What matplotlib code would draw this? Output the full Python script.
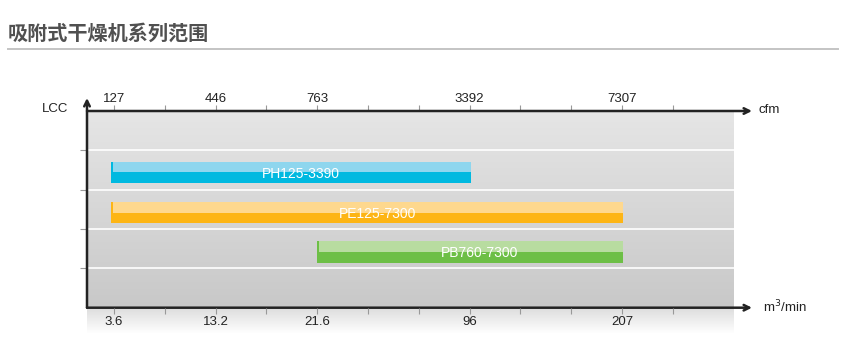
import numpy as np
import matplotlib.pyplot as plt

plt.rcParams['font.family'] = ['Liberation Sans', 'Noto Sans CJK SC', 'DejaVu Sans']

# 数据：刻度位置（等距索引）与标签
tick_pos = list(range(12))
cfm_labels = {0: '127', 2: '446', 4: '763', 7: '3392', 10: '7307'}
m3_labels = {0: '3.6', 2: '13.2', 4: '21.6', 7: '96', 10: '207'}

series = ['PH125-3390', 'PE125-7300', 'PB760-7300']
starts = [-0.06, -0.06, 3.99]
ends = [7.02, 10.02, 10.02]
rows = [1.56, 2.585, 3.59]
dark_colors = ['#00b9e0', '#fdb515', '#6dbf46']
light_colors = ['#8ed6ee', '#fed88e', '#b8dca0']

W, H = 855, 357
fig = plt.figure(figsize=(W / 100, H / 100), dpi=100)

def fr(x0, y0, x1, y1):
    # 像素 -> 图坐标
    return [x0 / W, 1 - y1 / H, (x1 - x0) / W, (y1 - y0) / H]

# 标题和分隔线
fig.text(8 / W, 1 - 33 / H, '吸附式干燥机系列范围', fontsize=14.5, fontweight='bold',
         color='#505050', va='center', ha='left', family=['Noto Sans CJK SC', 'DejaVu Sans'])
fig.add_artist(plt.Line2D([8 / W, 838 / W], [1 - 49 / H, 1 - 49 / H], color='#c4c4c4', lw=1.4))

# 背景渐变
bg = fig.add_axes(fr(87, 111, 734, 334))
bg.axis('off')
n = 223
top_part = np.linspace(0.90, 0.785, 197)
low_part = np.linspace(0.87, 1.0, n - 197)
grad = np.concatenate([top_part, low_part])[:, None]
bg.imshow(np.repeat(grad, 3, axis=1).reshape(n, 1, 3).repeat(2, axis=1), aspect='auto',
          extent=[0, 1, 0, 1], interpolation='bilinear')

ax = fig.add_axes(fr(87, 111, 734, 307.7))
ax.patch.set_alpha(0)
ax.set_xlim(-0.531, 12.205)
ax.set_ylim(5, 0)
ax2 = ax.twiny()

for y in [1, 2, 3, 4]:
    ax.axhline(y, color='white', lw=1.2, zorder=1)

h = 0.547
for s, e, r, dc, lc, name in zip(starts, ends, rows, dark_colors, light_colors, series):
    ax.barh(r, e - s, left=s, height=h, color=dc, zorder=3)
    ax.barh(r - h / 4, e - s - 0.04, left=s + 0.04, height=h / 2, color=lc, zorder=4)
    ax.text((s + e) / 2 + 0.2, r + 0.03, name, color='white', fontsize=10,
            ha='center', va='center', zorder=5)

for sp in ['right', 'bottom', 'top', 'left']:
    ax.spines[sp].set_visible(False)

# 坐标轴线与箭头
xr = (752 - 114) / 50.8
arrow = dict(arrowstyle='->', color='#222222', lw=1.8, shrinkA=0, shrinkB=0, mutation_scale=10)
ax.annotate('', xy=(xr, 0), xytext=(-0.531, 0), annotation_clip=False, arrowprops=arrow)
ax.annotate('', xy=(xr, 5), xytext=(-0.531, 5), annotation_clip=False, arrowprops=arrow)
ax.annotate('', xy=(-0.531, -0.33), xytext=(-0.531, 5), annotation_clip=False, arrowprops=arrow)

# 顶部刻度（cfm）
ax.xaxis.tick_top()
ax.set_xticks(tick_pos)
ax.set_xticklabels([cfm_labels.get(i, '') for i in tick_pos])
ax.tick_params(axis='x', direction='out', length=4.3, width=0.8, color='#999999',
               labelsize=9.5, labelcolor='#222222', pad=0.3)

# 底部刻度（m3/min）
ax2.set_xlim(ax.get_xlim())
ax2.xaxis.tick_bottom()
ax2.set_xticks(tick_pos)
ax2.set_xticklabels([m3_labels.get(i, '') for i in tick_pos])
ax2.tick_params(axis='x', direction='out', length=4.3, width=0.8, color='#999999',
                labelsize=9.5, labelcolor='#222222', pad=1.8)
for sp in ax2.spines.values():
    sp.set_visible(False)

ax.set_yticks([1, 2, 3, 4])
ax.set_yticklabels([])
ax.tick_params(axis='y', direction='out', length=5, width=0.8, color='#999999')

fig.text(42 / W, 1 - 109 / H, 'LCC', fontsize=9.5, color='#222222', va='center', ha='left')
fig.text(758 / W, 1 - 110 / H, 'cfm', fontsize=9.5, color='#222222', va='center', ha='left')
fig.text(763 / W, 1 - 307 / H, 'm$^3$/min', fontsize=9.5, color='#222222', va='center', ha='left')

fig.savefig('out.png', dpi=100)
